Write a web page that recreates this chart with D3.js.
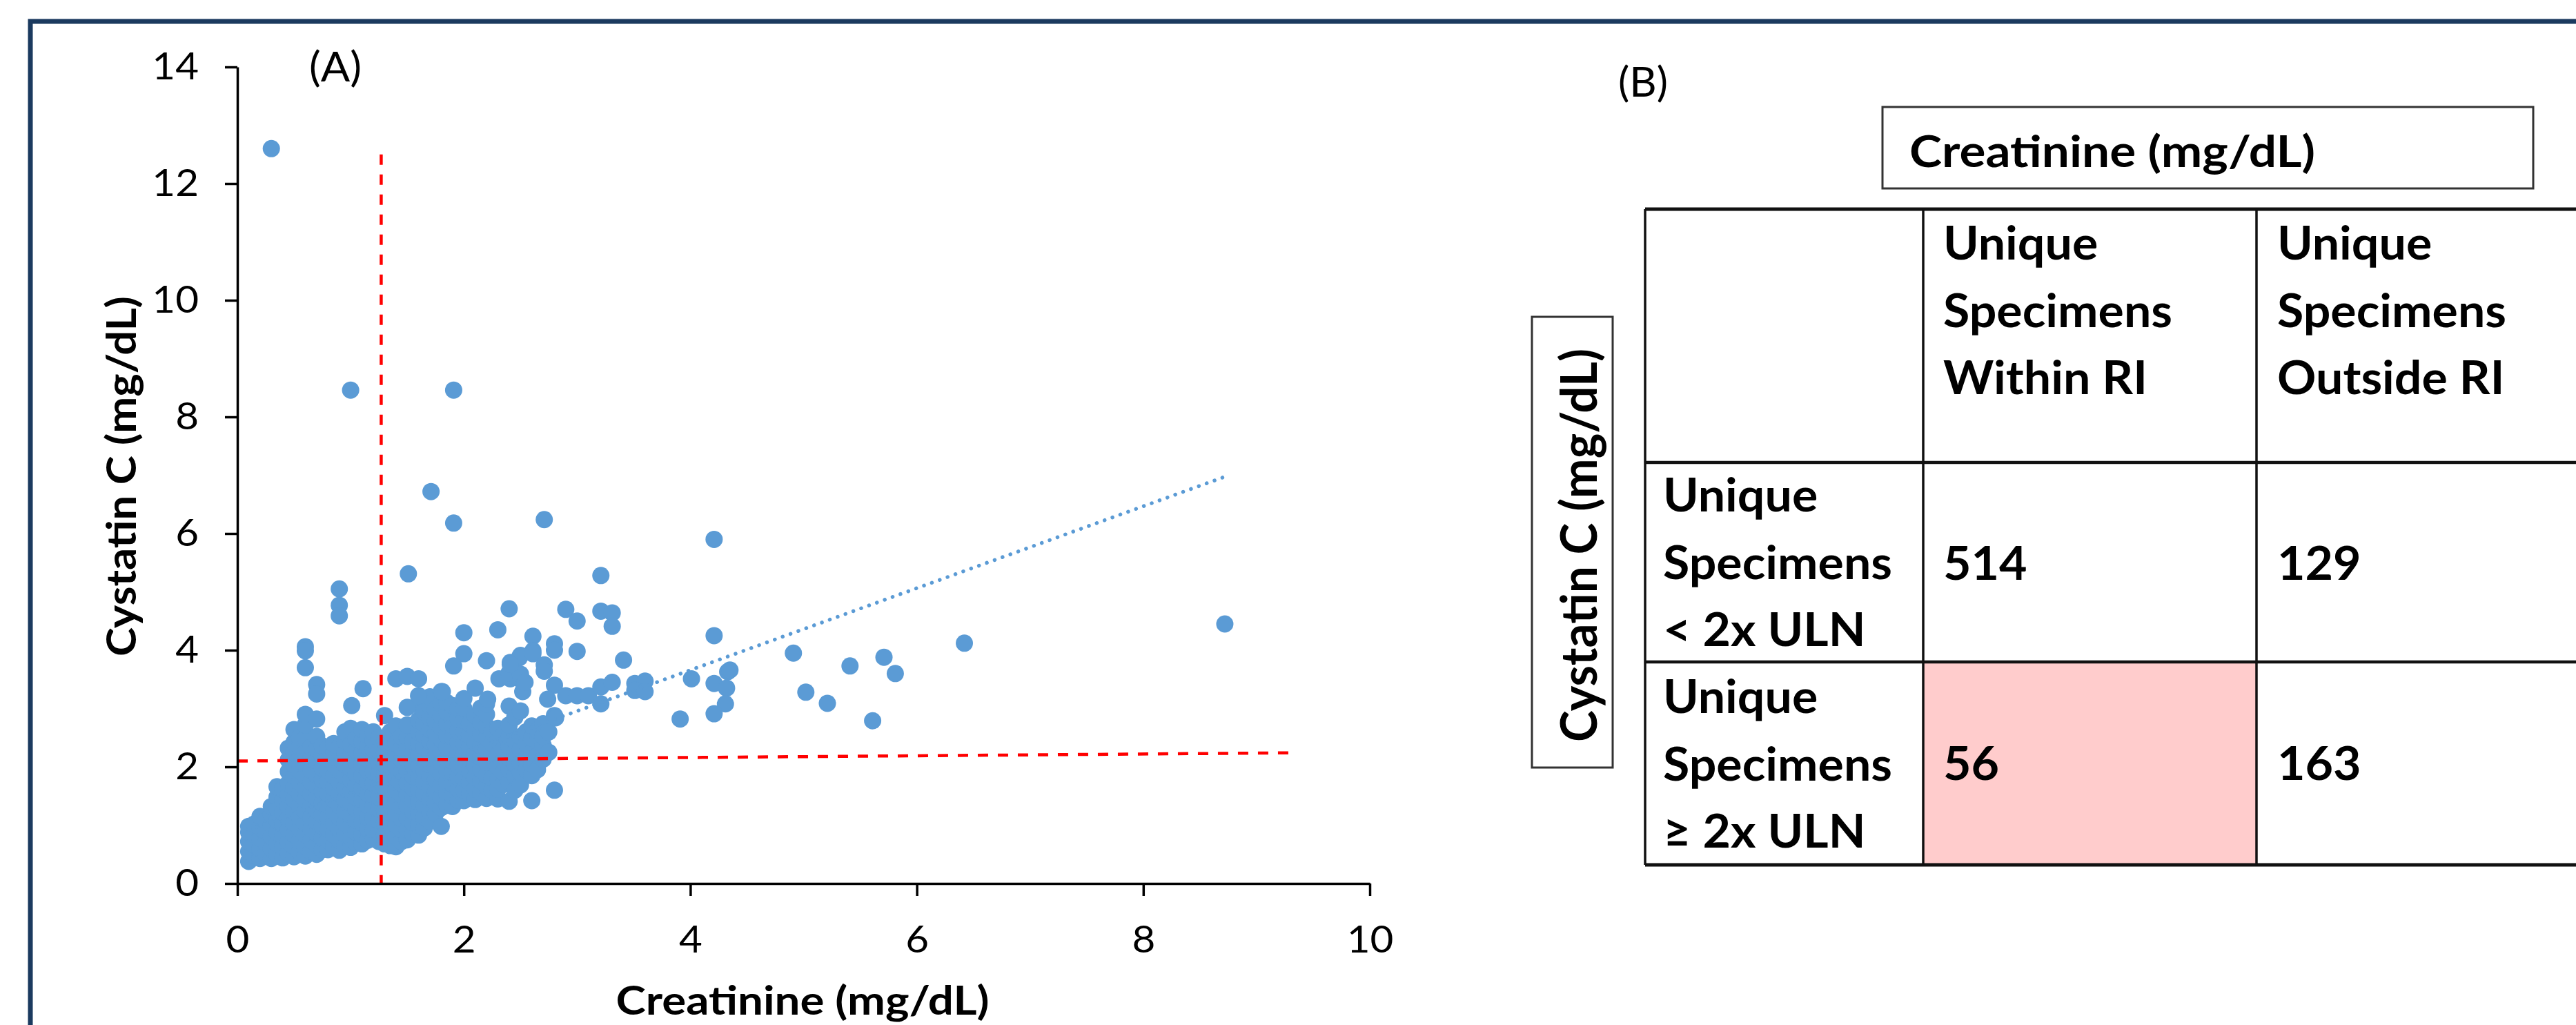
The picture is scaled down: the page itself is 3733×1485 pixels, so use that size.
<!DOCTYPE html>
<html>
<head>
<meta charset="utf-8">
<script src="https://cdn.jsdelivr.net/npm/d3@7"></script>
<style>
html, body { margin: 0; padding: 0; background: #fff; }
svg { display: block; }
text { font-family: Lato, "Open Sans", sans-serif; fill: #000; }
</style>
</head>
<body>
<div id="chart"></div>
<script>
// Streudiagramm (A): Kreatinin (x) gegen Cystatin C (y), beide mg/dL
// dichte Punktwolke spaltenweise abgelesen: [Kreatinin, [Cystatin C, ...]]
const cloudColumns = [
  [0.10, [0.38, 0.55, 0.72, 0.88, 0.98]],
  [0.15, [0.48, 0.66, 0.84, 1.02]],
  [0.20, [0.43, 0.60, 0.78, 0.96, 1.15]],
  [0.25, [0.52, 0.70, 0.90, 1.08]],
  [0.30, [0.43, 0.60, 0.80, 1.00, 1.18, 1.32]],
  [0.35, [0.50, 0.68, 0.88, 1.08, 1.28, 1.48, 1.66]],
  [0.40, [0.44, 0.62, 0.82, 1.02, 1.22, 1.42, 1.62]],
  [0.45, [0.52, 0.72, 0.92, 1.12, 1.32, 1.52, 1.72, 1.92, 2.12, 2.32]],
  [0.50, [0.46, 0.64, 0.84, 1.04, 1.24, 1.44, 1.64, 1.84, 2.04, 2.24, 2.42, 2.64]],
  [0.55, [0.54, 0.74, 0.94, 1.14, 1.34, 1.54, 1.74, 1.94, 2.14, 2.34, 2.50]],
  [0.60, [0.47, 0.64, 0.84, 1.04, 1.24, 1.44, 1.64, 1.84, 2.04, 2.24, 2.49, 2.72, 2.90]],
  [0.65, [0.55, 0.74, 0.94, 1.14, 1.34, 1.54, 1.74, 1.94, 2.14, 2.34]],
  [0.70, [0.50, 0.66, 0.86, 1.06, 1.26, 1.46, 1.66, 1.86, 2.10, 2.30, 2.52, 2.82]],
  [0.75, [0.58, 0.78, 0.98, 1.18, 1.38, 1.58, 1.78, 1.98, 2.18, 2.36]],
  [0.80, [0.58, 0.74, 0.94, 1.14, 1.34, 1.54, 1.74, 1.94, 2.14, 2.32]],
  [0.85, [0.64, 0.84, 1.04, 1.24, 1.44, 1.64, 1.84, 2.04, 2.24, 2.40]],
  [0.90, [0.57, 0.74, 0.94, 1.14, 1.34, 1.54, 1.74, 1.94, 2.14, 2.34]],
  [0.95, [0.64, 0.84, 1.04, 1.24, 1.44, 1.64, 1.84, 2.04, 2.24, 2.44, 2.60]],
  [1.00, [0.62, 0.78, 0.98, 1.18, 1.38, 1.58, 1.78, 1.98, 2.18, 2.38, 2.66]],
  [1.05, [0.70, 0.88, 1.08, 1.28, 1.48, 1.68, 1.88, 2.08, 2.28, 2.48]],
  [1.10, [0.68, 0.84, 1.04, 1.24, 1.44, 1.64, 1.84, 2.04, 2.24, 2.44, 2.64]],
  [1.15, [0.74, 0.94, 1.14, 1.34, 1.54, 1.74, 1.94, 2.14, 2.34, 2.54]],
  [1.20, [0.77, 0.92, 1.12, 1.32, 1.52, 1.72, 1.92, 2.12, 2.30, 2.46, 2.60]],
  [1.25, [0.72, 0.88, 1.08, 1.28, 1.48, 1.68, 1.88, 2.08, 2.28, 2.50]],
  [1.30, [0.68, 0.84, 1.04, 1.24, 1.44, 1.64, 1.84, 2.04, 2.24, 2.44, 2.88]],
  [1.35, [0.65, 0.82, 1.02, 1.22, 1.42, 1.62, 1.82, 2.02, 2.22, 2.42, 2.60]],
  [1.40, [0.63, 0.80, 1.00, 1.20, 1.40, 1.60, 1.80, 2.00, 2.20, 2.40, 2.70]],
  [1.45, [0.72, 0.92, 1.12, 1.32, 1.52, 1.72, 1.92, 2.12, 2.32, 2.52]],
  [1.50, [0.75, 0.92, 1.12, 1.32, 1.52, 1.72, 1.92, 2.12, 2.32, 2.50, 2.72]],
  [1.55, [0.85, 1.04, 1.24, 1.44, 1.64, 1.84, 2.04, 2.24, 2.44]],
  [1.60, [0.83, 1.00, 1.20, 1.40, 1.60, 1.80, 2.00, 2.20, 2.40, 2.60, 2.80, 3.05]],
  [1.65, [0.95, 1.14, 1.34, 1.54, 1.74, 1.94, 2.14, 2.34, 2.54, 2.74, 2.94]],
  [1.70, [1.07, 1.24, 1.44, 1.64, 1.84, 2.04, 2.24, 2.44, 2.64, 2.84, 3.04, 3.20]],
  [1.75, [1.20, 1.38, 1.58, 1.78, 1.98, 2.18, 2.38, 2.58, 2.78, 2.98]],
  [1.80, [0.98, 1.30, 1.48, 1.68, 1.88, 2.08, 2.28, 2.48, 2.68, 2.88, 3.08, 3.29]],
  [1.85, [1.34, 1.54, 1.74, 1.94, 2.14, 2.34, 2.54, 2.74, 2.94, 3.10]],
  [1.90, [1.32, 1.50, 1.70, 1.90, 2.10, 2.30, 2.50, 2.70, 2.90, 3.05]],
  [1.95, [1.43, 1.62, 1.82, 2.02, 2.22, 2.42, 2.62, 2.82, 3.00]],
  [2.00, [1.42, 1.60, 1.80, 2.00, 2.20, 2.40, 2.60, 2.80, 3.00, 3.17]],
  [2.05, [1.54, 1.74, 1.94, 2.14, 2.34, 2.54, 2.74]],
  [2.10, [1.44, 1.62, 1.82, 2.02, 2.22, 2.42, 2.64, 2.88, 3.35]],
  [2.15, [1.56, 1.76, 1.96, 2.16, 2.36, 2.56, 2.76, 3.01]],
  [2.20, [1.46, 1.66, 1.86, 2.08, 2.30, 2.50, 2.70, 2.90, 3.08]],
  [2.25, [1.60, 1.80, 2.20, 2.40, 2.60]],
  [2.30, [1.45, 1.62, 1.78, 2.00, 2.20, 2.45, 2.66]],
  [2.35, [1.70, 1.90, 2.10, 2.30, 2.55]],
  [2.40, [1.41, 1.74, 1.95, 2.15, 2.35, 2.52, 2.72, 3.04]],
  [2.45, [1.60, 1.85, 2.05, 2.25, 2.45, 2.85]],
  [2.50, [1.69, 1.90, 2.07, 2.30, 2.52, 2.96]],
  [2.55, [1.95, 2.15, 2.40, 2.60]],
  [2.60, [1.42, 1.85, 2.05, 2.25, 2.49, 2.70]],
  [2.65, [1.95, 2.20, 2.45, 2.62]],
  [2.70, [2.13, 2.37, 2.52, 2.74]],
  [2.75, [2.25, 2.60]],
  [2.80, [1.60, 2.88]]
];

// einzeln liegende Punkte [Kreatinin, Cystatin C]
const looseSpecimens = [
  [0.30, 12.6], [1.00, 8.46], [1.91, 8.46], [1.71, 6.72], [1.91, 6.18], [2.71, 6.24],
  [1.51, 5.31], [3.21, 5.28], [4.21, 5.90], [0.90, 5.05], [0.90, 4.77], [0.90, 4.59],
  [2.40, 4.71], [2.90, 4.70], [3.00, 4.50], [3.21, 4.67], [3.31, 4.64], [3.31, 4.41],
  [2.00, 4.30], [2.30, 4.35], [2.61, 4.24], [4.21, 4.25], [2.80, 4.11], [2.80, 4.00],
  [3.00, 3.98], [2.00, 3.94], [1.91, 3.73], [2.20, 3.82], [2.41, 3.79], [2.49, 3.87],
  [2.61, 3.99], [2.50, 3.91], [2.61, 3.94], [3.41, 3.83],
  [0.60, 4.06], [0.60, 3.99], [0.60, 3.70], [0.70, 3.41], [0.70, 3.25],
  [1.11, 3.34], [1.01, 3.05], [1.40, 3.51], [1.50, 3.55], [1.60, 3.51],
  [1.50, 3.02], [1.60, 3.22], [1.81, 3.29], [2.21, 3.16],
  [2.31, 3.51], [2.41, 3.51], [2.49, 3.51], [2.52, 3.29], [2.40, 3.61], [2.50, 3.59], [2.54, 3.45],
  [2.41, 3.76], [2.71, 3.75], [2.71, 3.64],
  [2.80, 3.40], [2.74, 3.16], [2.90, 3.22], [3.00, 3.22], [3.10, 3.22], [3.21, 3.08], [3.21, 3.37], [3.31, 3.45],
  [3.51, 3.43], [3.60, 3.47], [3.51, 3.31], [3.60, 3.29], [2.81, 2.84],
  [3.91, 2.82], [4.01, 3.51], [4.33, 3.63], [4.35, 3.66], [4.21, 3.43], [4.32, 3.35], [4.31, 3.08], [4.21, 2.91],
  [4.91, 3.95], [5.41, 3.73], [5.71, 3.88], [5.81, 3.60], [6.42, 4.12], [8.72, 4.45],
  [5.02, 3.28], [5.21, 3.09], [5.61, 2.79]
];

// lineare Trendlinie (Anfang / Ende) und Grenzwert-Linien
const trendPoints = [[0.1, 0.92], [8.7, 6.96]];
const creaCutoff = [[1.27, 12.5], [1.27, 0]];
const cystCutoff = [[0, 2.1], [9.3, 2.24]];

const xTicks = [0, 2, 4, 6, 8, 10];
const yTicks = [0, 2, 4, 6, 8, 10, 12, 14];

// Tabelle (B)
const colHeads = [["Unique", "Specimens", "Within RI"], ["Unique", "Specimens", "Outside RI"]];
const rowHeads = [["Unique", "Specimens", "< 2x ULN"], ["Unique", "Specimens", "\u2265 2x ULN"]];
const counts = [[514, 129], [56, 163]];

const W = 3733, H = 1485;
const blue = "#5b9bd5";

function stretch(sel, len) {
    sel.attr("textLength", len).attr("lengthAdjust", "spacingAndGlyphs");
}

function draw() {
    const svg = d3.select("#chart").append("svg")
        .attr("width", W)
        .attr("height", H);

    // Rahmen
    svg.append("rect")
        .attr("x", 44).attr("y", 31)
        .attr("width", W).attr("height", H)
        .attr("fill", "none")
        .attr("stroke", "#1b3a5f")
        .attr("stroke-width", 7);

    // ---------- (A) Streudiagramm ----------
    const x = d3.scaleLinear().domain([0, 10]).range([344, 1985]);
    const y = d3.scaleLinear().domain([0, 14]).range([1280, 97]);

    const specimens = cloudColumns
        .flatMap(([cx, ys]) => ys.map(cy => [cx, cy]))
        .concat(looseSpecimens);

    svg.append("g").selectAll("circle")
        .data(specimens)
        .join("circle")
        .attr("cx", d => x(d[0]))
        .attr("cy", d => y(d[1]))
        .attr("r", 12.5)
        .attr("fill", blue);

    const line = d3.line().x(d => x(d[0])).y(d => y(d[1]));

    svg.append("path")
        .attr("d", line(trendPoints))
        .attr("fill", "none")
        .attr("stroke", blue)
        .attr("stroke-width", 5.5)
        .attr("stroke-linecap", "round")
        .attr("stroke-dasharray", "0.1 12");

    [creaCutoff, cystCutoff].forEach(pts => {
        svg.append("path")
            .attr("d", line(pts))
            .attr("fill", "none")
            .attr("stroke", "#ff0000")
            .attr("stroke-width", 4.5)
            .attr("stroke-dasharray", "15 14");
    });

    // Achsen
    const xAxis = svg.append("g")
        .attr("transform", "translate(0,1280)")
        .call(d3.axisBottom(x).tickValues(xTicks).tickSize(18).tickPadding(44).tickSizeOuter(0));
    const yAxis = svg.append("g")
        .attr("transform", "translate(344,0)")
        .call(d3.axisLeft(y).tickValues(yTicks).tickSize(18).tickPadding(38).tickSizeOuter(0));

    [xAxis, yAxis].forEach(g => {
        g.selectAll("path, line").attr("stroke", "#000").attr("stroke-width", 3.5);
        g.selectAll("text")
            .attr("fill", "#000")
            .style("font-family", "Lato, sans-serif")
            .style("font-size", "54px")
            .each(function () {
                // Beschriftung etwas breiter wie im Original
                d3.select(this).call(stretch, this.getComputedTextLength() * 1.08);
            });
    });

    svg.append("text")
        .attr("x", 1163).attr("y", 1470)
        .attr("text-anchor", "middle")
        .style("font-size", "58px").style("font-weight", "bold")
        .text("Creatinine (mg/dL)")
        .call(stretch, 541);

    svg.append("text")
        .attr("transform", "translate(197,690) rotate(-90)")
        .attr("text-anchor", "middle")
        .style("font-size", "60px").style("font-weight", "bold")
        .text("Cystatin C (mg/dL)")
        .call(stretch, 522);

    svg.append("text")
        .attr("x", 486).attr("y", 118)
        .attr("text-anchor", "middle")
        .style("font-size", "60px")
        .text("(A)")
        .call(stretch, 76);

    // ---------- (B) Tabelle ----------
    svg.append("text")
        .attr("x", 2381).attr("y", 140)
        .attr("text-anchor", "middle")
        .style("font-size", "60px")
        .text("(B)")
        .call(stretch, 72);

    // Kopf-Kasten Kreatinin
    svg.append("rect")
        .attr("x", 2728).attr("y", 155)
        .attr("width", 943).attr("height", 118)
        .attr("fill", "none").attr("stroke", "#333").attr("stroke-width", 3);
    svg.append("text")
        .attr("x", 2767).attr("y", 242)
        .style("font-size", "64px").style("font-weight", "bold")
        .text("Creatinine (mg/dL)")
        .call(stretch, 588);

    // seitlicher Kasten Cystatin C
    svg.append("rect")
        .attr("x", 2220).attr("y", 459)
        .attr("width", 117).attr("height", 653)
        .attr("fill", "none").attr("stroke", "#333").attr("stroke-width", 3);
    svg.append("text")
        .attr("transform", "translate(2314,790) rotate(-90)")
        .attr("text-anchor", "middle")
        .style("font-size", "72px").style("font-weight", "bold")
        .text("Cystatin C (mg/dL)")
        .call(stretch, 570);

    const colEdges = [2384, 2787, 3270, 3760];
    const rowEdges = [303, 670, 959, 1253];

    // hervorgehobene Zelle (56)
    svg.append("rect")
        .attr("x", colEdges[1]).attr("y", rowEdges[2])
        .attr("width", colEdges[2] - colEdges[1])
        .attr("height", rowEdges[3] - rowEdges[2])
        .attr("fill", "#ffcccc");

    rowEdges.forEach((ry, i) => {
        svg.append("line")
            .attr("x1", colEdges[0]).attr("x2", colEdges[3])
            .attr("y1", ry).attr("y2", ry)
            .attr("stroke", "#111")
            .attr("stroke-width", (i === 0 || i === 3) ? 5 : 4.5);
    });
    colEdges.slice(0, 3).forEach(cx => {
        svg.append("line")
            .attr("x1", cx).attr("x2", cx)
            .attr("y1", rowEdges[0]).attr("y2", rowEdges[3])
            .attr("stroke", "#111")
            .attr("stroke-width", 3.5);
    });

    const textX = [2410, 2816, 3300];
    const lineGap = 97.5;
    const cells = [];

    colHeads.forEach((lines, j) => {
        lines.forEach((t, k) => cells.push({ x: textX[j + 1], y: 376 + k * lineGap, t }));
    });
    rowHeads.forEach((lines, i) => {
        lines.forEach((t, k) => cells.push({ x: textX[0], y: [741, 1033][i] + k * lineGap, t }));
    });
    counts.forEach((row, i) => {
        row.forEach((v, j) => cells.push({ x: textX[j + 1], y: [840, 1130][i], t: String(v) }));
    });

    const cellText = svg.append("g").selectAll("text")
        .data(cells)
        .join("text")
        .attr("x", d => d.x)
        .attr("y", d => d.y)
        .style("font-size", "66px")
        .style("font-weight", "bold")
        .text(d => d.t);

    // Breite an "Specimens" (332px) angleichen
    const ref = cellText.filter(d => d.t === "Specimens").node().getComputedTextLength();
    const k = 332 / ref;
    cellText.each(function () {
        const len = this.getComputedTextLength();
        d3.select(this).call(stretch, len * k);
    });
}

if (document.fonts && document.fonts.ready) {
    document.fonts.ready.then(draw);
} else {
    draw();
}
</script>
</body>
</html>
